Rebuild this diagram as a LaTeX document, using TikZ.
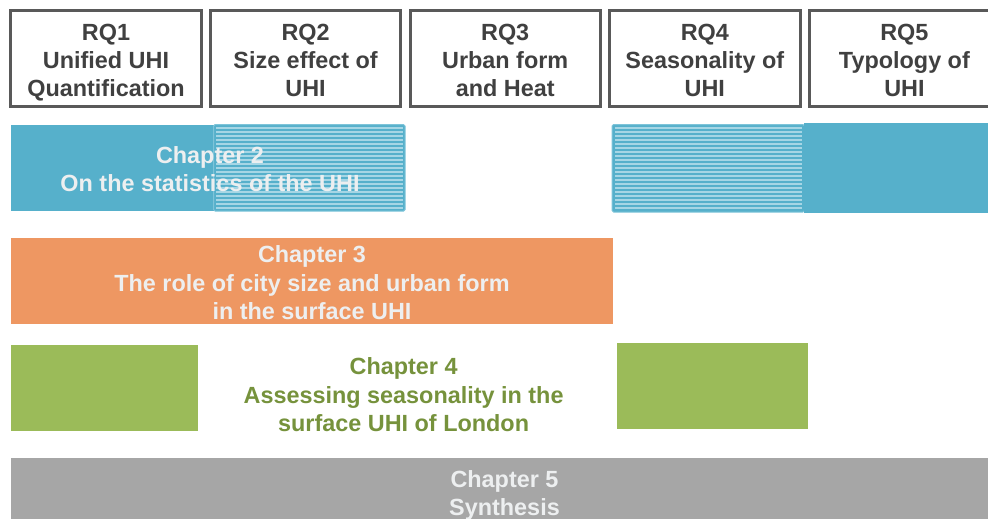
\documentclass[tikz,border=0pt]{standalone}
\usepackage{fontspec}
\setmainfont{Liberation Sans}
\begin{document}
\definecolor{rqline}{HTML}{595959}
\definecolor{rqtextc}{HTML}{404040}
\definecolor{chblue}{HTML}{56B0CB}
\definecolor{chbluerim}{HTML}{7EC4D9}
\definecolor{chstripe}{HTML}{A6D6E5}
\definecolor{chorange}{HTML}{EE9762}
\definecolor{chgreen}{HTML}{9BBB59}
\definecolor{chgreentext}{HTML}{76923C}
\definecolor{chgray}{HTML}{A6A6A6}
\definecolor{lighttext}{HTML}{EDEFF0}
\begin{tikzpicture}[x=1pt,y=-1pt,
  rqframe/.style={draw=rqline,line width=3pt,fill=white},
  label/.style={font=\fontsize{23.4}{28.2}\selectfont\bfseries,align=center,inner sep=0pt,anchor=north},
  rqtext/.style={label,text=rqtextc},
  chaptext/.style={label,text=lighttext},
  stripe/.style={draw=chstripe,line width=1.7pt}]
\useasboundingbox (0,0) rectangle (988,519);
\clip (0,0) rectangle (988,519);

% research question boxes
\foreach \i in {0,...,4}{
  \draw[rqframe] ({10.8+199.6*\i},10.8) rectangle ({201.2+199.6*\i},106);
}
\node[rqtext] (rq1) at (106,24)   {RQ1\\Unified UHI\\Quantification};
\node[rqtext] (rq2) at (305.6,24) {RQ2\\Size effect of\\UHI};
\node[rqtext] (rq3) at (505.2,24) {RQ3\\Urban form\\and Heat};
\node[rqtext] (rq4) at (704.8,24) {RQ4\\Seasonality of\\UHI};
\node[rqtext] (rq5) at (904.4,24) {RQ5\\Typology of\\UHI};

% chapter 2: solid and hatched blue spans
\fill[chblue] (11,125) rectangle (214,211);
\fill[chblue,draw=chbluerim,line width=1pt,rounded corners=1.5pt] (213.5,124.7) rectangle (405.2,211);
\foreach \y in {128,132,...,208}{
  \draw[stripe] (216,\y) -- (403,\y);
}
\fill[chblue,draw=chbluerim,line width=1pt,rounded corners=1.5pt] (612,124.5) rectangle (804.5,212);
\foreach \y in {128,132,...,208}{
  \draw[stripe] (615,\y) -- (802,\y);
}
\fill[chblue] (804,123) rectangle (995,212.7);
\node[chaptext] (ch2) at (210,146.2) {Chapter 2\\On the statistics of the UHI};

% chapter 3
\fill[chorange] (11,238.3) rectangle (613,323.7);
\node[chaptext] (ch3) at (312,245.8) {Chapter 3\\The role of city size and urban form\\in the surface UHI};

% chapter 4
\fill[chgreen] (11,345) rectangle (197.6,430.7);
\fill[chgreen] (617,343) rectangle (808,428.7);
\node[label,text=chgreentext] (ch4) at (403.6,357.8) {Chapter 4\\Assessing seasonality in the\\surface UHI of London};

% chapter 5
\fill[chgray] (11,458) rectangle (995,525);
\node[chaptext] (ch5) at (504.5,470.2) {Chapter 5\\Synthesis};
\end{tikzpicture}
\end{document}
